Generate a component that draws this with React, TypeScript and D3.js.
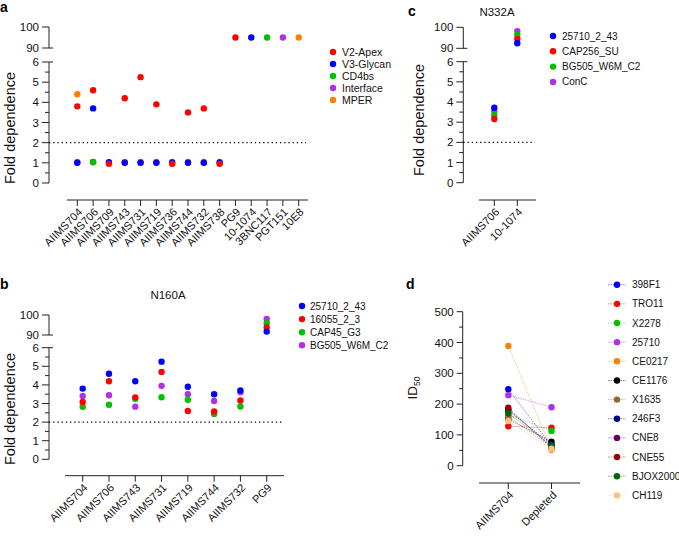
import React from 'react';
import * as d3 from 'd3';

const FONT = '"Liberation Sans", Arial, Helvetica, sans-serif';

// ---------- Panel a ----------
const aCategories = ["AIIMS704", "AIIMS706", "AIIMS709", "AIIMS743", "AIIMS731", "AIIMS719", "AIIMS736", "AIIMS744", "AIIMS732", "AIIMS738", "PG9", "10-1074", "3BNC117", "PGT151", "10E8"];
const aGroups = ["V2-Apex", "V3-Glycan", "CD4bs", "Interface", "MPER"];
const aGroupColors = ["#ff0000", "#0000ff", "#00c000", "#b030e8", "#ff8000"];
// points drawn behind
const aV2ApexBack: [string, number][] = [["AIIMS704", 1.03], ["AIIMS706", 1.05], ["AIIMS743", 1.03], ["AIIMS731", 1.03], ["AIIMS719", 1.03], ["AIIMS744", 1.03], ["AIIMS732", 1.03]];
const aV3Glycan: [string, number][] = [["AIIMS704", 1.0], ["AIIMS706", 3.7], ["AIIMS709", 1.03], ["AIIMS743", 1.0], ["AIIMS731", 1.0], ["AIIMS719", 1.0], ["AIIMS736", 1.03], ["AIIMS744", 1.0], ["AIIMS732", 1.0], ["AIIMS738", 1.03], ["10-1074", 95]];
const aV2Apex: [string, number][] = [["AIIMS704", 3.8], ["AIIMS706", 4.6], ["AIIMS709", 0.95], ["AIIMS743", 4.2], ["AIIMS731", 5.25], ["AIIMS719", 3.9], ["AIIMS736", 0.95], ["AIIMS744", 3.5], ["AIIMS732", 3.7], ["AIIMS738", 0.95], ["PG9", 95]];
const aCD4bs: [string, number][] = [["AIIMS706", 1.03], ["3BNC117", 95]];
const aInterface: [string, number][] = [["PGT151", 95]];
const aMPER: [string, number][] = [["AIIMS704", 4.4], ["10E8", 95]];

// ---------- Panel b ----------
const bCategories = ["AIIMS704", "AIIMS706", "AIIMS743", "AIIMS731", "AIIMS719", "AIIMS744", "AIIMS732", "PG9"];
const bSeriesNames = ["25710_2_43", "16055_2_3", "CAP45_G3", "BG505_W6M_C2"];
const bSeriesColors = ["#0000ff", "#ff0000", "#00c000", "#b030e8"];
const b25710 = [3.8, 4.6, 4.2, 5.25, 3.9, 3.5, 3.7, 91.7];
const b16055 = [3.08, 4.2, 3.33, 4.7, 2.6, 2.57, 3.16, 93.8];
const bCAP45 = [2.82, 2.93, 3.25, 3.34, 3.2, 2.44, 2.84, 95.9];
const bBG505 = [3.4, 3.44, 2.83, 3.95, 3.5, 3.14, 3.6, 98];

// ---------- Panel c ----------
const cCategories = ["AIIMS706", "10-1074"];
const cSeriesNames = ["25710_2_43", "CAP256_SU", "BG505_W6M_C2", "ConC"];
const cSeriesColors = ["#0000ff", "#ff0000", "#00c000", "#b030e8"];
const c25710 = [3.72, 92.4];
const cCAP256 = [3.16, 94.4];
const cBG505 = [3.36, 96.5];
const cConC = [3.55, 98.2];

// ---------- Panel d ----------
const dCategories = ["AIIMS704", "Depleted"];
const dNames = ["398F1", "TRO11", "X2278", "25710", "CE0217", "CE1176", "X1635", "246F3", "CNE8", "CNE55", "BJOX2000", "CH119"];
const dColors = ["#0000ff", "#ff0000", "#00c000", "#b030e8", "#ff8000", "#000000", "#996633", "#000080", "#660066", "#990000", "#006600", "#ffc080"];
const dAIIMS704 = [248, 128, 166, 229, 389, 151, 160, 178, 183, 188, 170, 145];
const dDepleted = [65, 123, 113, 190, 52, 78, 60, 70, 62, 58, 66, 55];
const dYTicks = [0, 100, 200, 300, 400, 500];

const lowTicks = [0, 1, 2, 3, 4, 5, 6];
const upTicks = [90, 100];
const lowMinor = [0.5, 1.5, 2.5, 3.5, 4.5, 5.5];

const AX = "#222";
const TICK_FS = 11.5;

function BrokenAxis({ x, yLow, yUp }: { x: number; yLow: d3.ScaleLinear<number, number>; yUp: d3.ScaleLinear<number, number> }) {
  return (
    <g fontFamily={FONT} fontSize={TICK_FS} fill="#111">
      <line x1={x} x2={x} y1={yUp(90)} y2={yUp(100)} stroke={AX} strokeWidth={1} />
      <line x1={x} x2={x} y1={yLow(0)} y2={yLow(6)} stroke={AX} strokeWidth={1} />
      {upTicks.map((t) => (
        <g key={"u" + t}>
          <line x1={x - 7} x2={t === 90 ? x + 4 : x} y1={yUp(t)} y2={yUp(t)} stroke={AX} />
          <text x={x - 10} y={yUp(t)} dy="0.35em" textAnchor="end">{t}</text>
        </g>
      ))}
      {lowTicks.map((t) => (
        <g key={"l" + t}>
          <line x1={x - 7} x2={t === 6 ? x + 4 : x} y1={yLow(t)} y2={yLow(t)} stroke={AX} />
          <text x={x - 10} y={yLow(t)} dy="0.35em" textAnchor="end">{t}</text>
        </g>
      ))}
      {lowMinor.map((t) => (
        <line key={"m" + t} x1={x - 4} x2={x} y1={yLow(t)} y2={yLow(t)} stroke={AX} />
      ))}
    </g>
  );
}

function XAxis({ x0, x1, y, scale, cats }: { x0: number; x1: number; y: number; scale: d3.ScalePoint<string>; cats: string[] }) {
  return (
    <g fontFamily={FONT} fontSize={11} fill="#111">
      <line x1={x0} x2={x1} y1={y} y2={y} stroke={AX} />
      {cats.map((c) => (
        <g key={c}>
          <line x1={scale(c)!} x2={scale(c)!} y1={y} y2={y + 6} stroke={AX} />
          <text transform={`translate(${scale(c)! + 3},${y + 10}) rotate(-45)`} textAnchor="end" dy="0.35em">{c}</text>
        </g>
      ))}
    </g>
  );
}

function YLabel({ x, y, text }: { x: number; y: number; text: string }) {
  return (
    <text transform={`translate(${x},${y}) rotate(-90)`} textAnchor="middle" dy="0.35em" fontFamily={FONT} fontSize={14.5} fill="#111">{text}</text>
  );
}

const R = 3.2;

export default function App() {
  // panel a scales
  const aXA = 49;
  const yLowA = d3.scaleLinear().domain([0, 6]).range([183, 62]);
  const yUpA = d3.scaleLinear().domain([90, 100]).range([48, 27]);
  const yA = (v: number) => (v >= 90 ? yUpA(v) : yLowA(v));
  const xA = d3.scalePoint<string>().domain(aCategories).range([77.3, 298.7]);
  const aLayers: { data: [string, number][]; color: string }[] = [
    { data: aV2ApexBack, color: aGroupColors[0] },
    { data: aV3Glycan, color: aGroupColors[1] },
    { data: aV2Apex, color: aGroupColors[0] },
    { data: aCD4bs, color: aGroupColors[2] },
    { data: aInterface, color: aGroupColors[3] },
    { data: aMPER, color: aGroupColors[4] },
  ];

  // panel b scales
  const bXA = 49;
  const yLowB = d3.scaleLinear().domain([0, 6]).range([459.3, 347.7]);
  const yUpB = d3.scaleLinear().domain([90, 100]).range([335, 315]);
  const yB = (v: number) => (v >= 90 ? yUpB(v) : yLowB(v));
  const xB = d3.scalePoint<string>().domain(bCategories).range([82.7, 266.7]);
  const bSeries = [b25710, b16055, bCAP45, bBG505];
  const bOrder = [3, 2, 1, 0];

  // panel c scales
  const cXA = 463.3;
  const yLowC = d3.scaleLinear().domain([0, 6]).range([182.7, 61.7]);
  const yUpC = d3.scaleLinear().domain([90, 100]).range([48.3, 27.3]);
  const yC = (v: number) => (v >= 90 ? yUpC(v) : yLowC(v));
  const xC = d3.scalePoint<string>().domain(cCategories).range([494.3, 517.3]);
  const cSeries = [c25710, cCAP256, cBG505, cConC];
  const cOrder = [3, 2, 1, 0];

  // panel d scales
  const dXA = 462.7;
  const yD = d3.scaleLinear().domain([0, 500]).range([465.7, 311.7]);
  const xD = d3.scalePoint<string>().domain(dCategories).range([508.3, 551.5]);
  const dMinor = d3.range(50, 500, 100);

  return (
    <svg width={679} height={536} style={{ position: "absolute", left: 0, top: 0, background: "#fff" }}>
      <rect width={679} height={536} fill="#fff" />
      {/* panel letters */}
      <g fontFamily={FONT} fontWeight="bold" fontSize={14} fill="#000">
        <text x={0} y={12}>a</text>
        <text x={0} y={289}>b</text>
        <text x={408} y={16}>c</text>
        <text x={406} y={289}>d</text>
      </g>

      {/* ---------- Panel a ---------- */}
      <BrokenAxis x={aXA} yLow={yLowA} yUp={yUpA} />
      <YLabel x={10} y={128} text="Fold dependence" />
      <line x1={aXA} x2={306} y1={yLowA(2)} y2={yLowA(2)} stroke="#000" strokeWidth={1.3} strokeDasharray="1.3,2.9" />
      <XAxis x0={67} x1={308} y={200} scale={xA} cats={aCategories} />
      {aLayers.map((l, li) => (
        <g key={li} fill={l.color}>
          {l.data.map(([c, v], i) => (
            <circle key={i} cx={xA(c)} cy={yA(v)} r={R} />
          ))}
        </g>
      ))}
      <g fontFamily={FONT} fontSize={10.5} fill="#111">
        {aGroups.map((g, i) => (
          <g key={g}>
            <circle cx={333} cy={52 + i * 12} r={R} fill={aGroupColors[i]} />
            <text x={342} y={52 + i * 12} dy="0.35em">{g}</text>
          </g>
        ))}
      </g>

      {/* ---------- Panel b ---------- */}
      <text x={168} y={299} textAnchor="middle" fontFamily={FONT} fontSize={11.5} fill="#111">N160A</text>
      <BrokenAxis x={bXA} yLow={yLowB} yUp={yUpB} />
      <YLabel x={10} y={409} text="Fold dependence" />
      <line x1={bXA} x2={282} y1={yLowB(2)} y2={yLowB(2)} stroke="#000" strokeWidth={1.3} strokeDasharray="1.3,2.9" />
      <XAxis x0={65} x1={284} y={475.7} scale={xB} cats={bCategories} />
      {bOrder.map((si) => (
        <g key={si} fill={bSeriesColors[si]}>
          {bSeries[si].map((v, i) => (
            <circle key={i} cx={xB(bCategories[i])} cy={yB(v)} r={R} />
          ))}
        </g>
      ))}
      <g fontFamily={FONT} fontSize={10} fill="#111">
        {bSeriesNames.map((n, i) => (
          <g key={n}>
            <circle cx={302} cy={306 + i * 13.1} r={R} fill={bSeriesColors[i]} />
            <text x={310} y={306 + i * 13.1} dy="0.35em">{n}</text>
          </g>
        ))}
      </g>

      {/* ---------- Panel c ---------- */}
      <text x={497} y={16} textAnchor="middle" fontFamily={FONT} fontSize={11.5} fill="#111">N332A</text>
      <BrokenAxis x={cXA} yLow={yLowC} yUp={yUpC} />
      <YLabel x={419} y={120} text="Fold dependence" />
      <line x1={cXA} x2={535} y1={yLowC(2)} y2={yLowC(2)} stroke="#000" strokeWidth={1.3} strokeDasharray="1.3,2.9" />
      <XAxis x0={479} x1={536} y={200} scale={xC} cats={cCategories} />
      {cOrder.map((si) => (
        <g key={si} fill={cSeriesColors[si]}>
          {cSeries[si].map((v, i) => (
            <circle key={i} cx={xC(cCategories[i])} cy={yC(v)} r={R} />
          ))}
        </g>
      ))}
      <g fontFamily={FONT} fontSize={10} fill="#111">
        {cSeriesNames.map((n, i) => (
          <g key={n}>
            <circle cx={553} cy={36 + i * 15.3} r={R} fill={cSeriesColors[i]} />
            <text x={562} y={36 + i * 15.3} dy="0.35em">{n}</text>
          </g>
        ))}
      </g>

      {/* ---------- Panel d ---------- */}
      <g fontFamily={FONT} fontSize={TICK_FS} fill="#111">
        <line x1={dXA} x2={dXA} y1={yD(0)} y2={yD(500)} stroke={AX} />
        {dYTicks.map((t) => (
          <g key={t}>
            <line x1={dXA - 6} x2={dXA} y1={yD(t)} y2={yD(t)} stroke={AX} />
            <text x={dXA - 9} y={yD(t)} dy="0.35em" textAnchor="end">{t}</text>
          </g>
        ))}
        {dMinor.map((t) => (
          <line key={t} x1={dXA - 3.5} x2={dXA} y1={yD(t)} y2={yD(t)} stroke={AX} />
        ))}
      </g>
      <text transform={`translate(412,388) rotate(-90)`} textAnchor="middle" dy="0.35em" fontFamily={FONT} fontSize={13.5} fill="#111">
        ID<tspan fontSize={8.5} dy="3">50</tspan>
      </text>
      <XAxis x0={479} x1={580} y={483} scale={xD} cats={dCategories} />
      {dNames.map((n, i) => (
        <line key={n} x1={xD("AIIMS704")} x2={xD("Depleted")} y1={yD(dAIIMS704[i])} y2={yD(dDepleted[i])} stroke={dColors[i]} strokeOpacity={0.55} strokeWidth={0.9} strokeDasharray="1.5,1" />
      ))}
      {dNames.map((n, i) => (
        <g key={n} fill={dColors[i]}>
          <circle cx={xD("AIIMS704")} cy={yD(dAIIMS704[i])} r={R} />
          <circle cx={xD("Depleted")} cy={yD(dDepleted[i])} r={R} />
        </g>
      ))}
      <g fontFamily={FONT} fontSize={10} fill="#111">
        {dNames.map((n, i) => {
          const yy = 284.7 + i * 19.15;
          return (
            <g key={n}>
              <line x1={608} x2={626} y1={yy} y2={yy} stroke={dColors[i]} strokeOpacity={0.55} strokeWidth={0.9} strokeDasharray="1.5,1" />
              <circle cx={617} cy={yy} r={R} fill={dColors[i]} />
              <text x={632} y={yy} dy="0.35em">{n}</text>
            </g>
          );
        })}
      </g>
    </svg>
  );
}
